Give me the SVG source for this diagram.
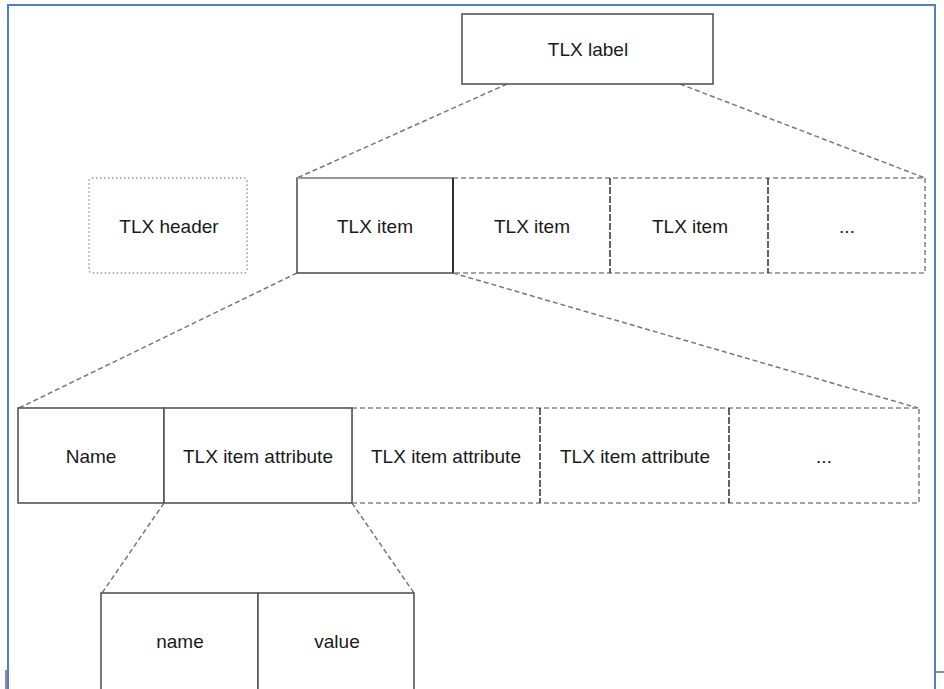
<svg xmlns="http://www.w3.org/2000/svg" width="944" height="689" viewBox="0 0 944 689">
<style>
.t{font-family:"Liberation Sans",Arial,sans-serif;font-size:19px;fill:#1a1a1a;text-anchor:middle}
.solid{fill:#fff;stroke:#555;stroke-width:1.6}
.dash{fill:none;stroke:#888;stroke-width:1.6;stroke-dasharray:5 3}
.dot{fill:none;stroke:#999;stroke-width:1.5;stroke-dasharray:1.5 2.5}
.conn{fill:none;stroke:#777;stroke-width:1.5;stroke-dasharray:5 3}
.div{stroke:#222;stroke-width:1.4;stroke-dasharray:7 2}
</style>
<rect width="944" height="689" fill="#fff"/>
<path d="M8,689 V5 H935 V689" fill="none" stroke="#4f81bd" stroke-width="2"/>
<line x1="6" y1="670" x2="6" y2="689" stroke="#7a5aa0" stroke-width="1.5"/>
<line x1="936" y1="672" x2="944" y2="672" stroke="#7a5aa0" stroke-width="1.5"/>

<g id="connectors">
<line class="conn" x1="507" y1="84" x2="297" y2="178"/>
<line class="conn" x1="680" y1="84" x2="925" y2="178"/>
<line class="conn" x1="297" y1="273" x2="19" y2="408"/>
<line class="conn" x1="453" y1="273" x2="918" y2="408"/>
<line class="conn" x1="164" y1="503" x2="102" y2="593"/>
<line class="conn" x1="352" y1="503" x2="414" y2="593"/>
</g>

<g id="tlx-label">
<rect class="solid" x="462" y="14" width="251" height="70"/>
<text class="t" x="588" y="56">TLX label</text>
</g>

<g id="tlx-header">
<rect class="dot" x="89" y="178" width="158" height="95" rx="3"/>
<text class="t" x="169" y="233">TLX header</text>
</g>

<g id="tlx-items">
<rect class="dash" x="453" y="178" width="472" height="95"/>
<line class="div" x1="610" y1="178" x2="610" y2="273"/>
<line class="div" x1="768" y1="178" x2="768" y2="273"/>
<g id="tlx-item-1">
<rect class="solid" x="297" y="178" width="156" height="95"/>
<line x1="297" y1="178" x2="453" y2="178" stroke="#999" stroke-width="2.2"/>
<line x1="453" y1="178" x2="453" y2="273" stroke="#222" stroke-width="1.6"/>
<text class="t" x="375" y="233">TLX item</text>
</g>
<g id="tlx-item-2"><text class="t" x="532" y="233">TLX item</text></g>
<g id="tlx-item-3"><text class="t" x="690" y="233">TLX item</text></g>
<g id="tlx-item-more"><text class="t" x="847" y="233">...</text></g>
</g>

<g id="attributes">
<rect class="dash" x="352" y="408" width="567" height="95"/>
<line class="div" x1="540" y1="408" x2="540" y2="503"/>
<line class="div" x1="729" y1="408" x2="729" y2="503"/>
<g id="name-cell">
<rect class="solid" x="18" y="408" width="146" height="95"/>
<text class="t" x="91" y="463">Name</text>
</g>
<g id="attr-1">
<rect class="solid" x="164" y="408" width="188" height="95"/>
<text class="t" x="258" y="463">TLX item attribute</text>
</g>
<g id="attr-2"><text class="t" x="446" y="463">TLX item attribute</text></g>
<g id="attr-3"><text class="t" x="635" y="463">TLX item attribute</text></g>
<g id="attr-more"><text class="t" x="824" y="463">...</text></g>
</g>

<g id="pair">
<g id="name-sub">
<rect class="solid" x="101" y="593" width="157" height="97"/>
<text class="t" x="180" y="648">name</text>
</g>
<g id="value-sub">
<rect class="solid" x="258" y="593" width="156" height="97"/>
<text class="t" x="337" y="648">value</text>
</g>
</g>
</svg>
